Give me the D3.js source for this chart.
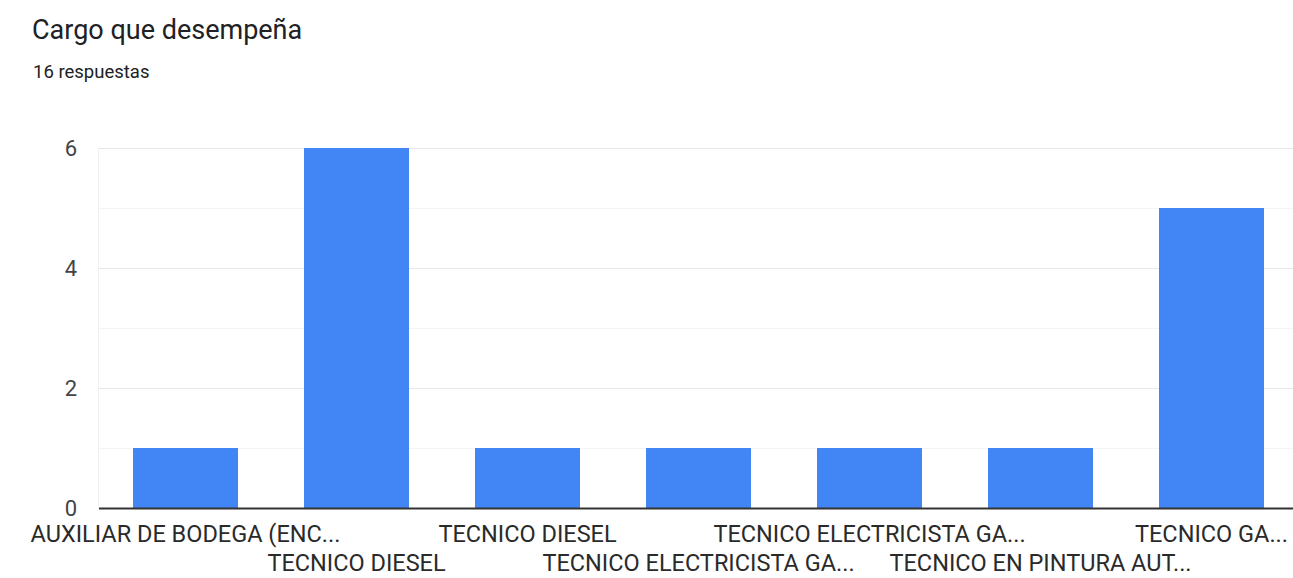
<!DOCTYPE html>
<html>
<head>
<meta charset="utf-8">
<script src="https://cdn.jsdelivr.net/npm/d3@7"></script>
<style>
  html, body { margin: 0; padding: 0; background: #ffffff; }
  svg { display: block; }
</style>
</head>
<body>
<svg id="chart" width="1293" height="578"></svg>
<script>
// Responses per job title (labels as shown on the axis, truncated)
const categories = [
  "AUXILIAR DE BODEGA (ENC...",
  "TECNICO DIESEL",
  "TECNICO DIESEL",
  "TECNICO ELECTRICISTA GA...",
  "TECNICO ELECTRICISTA GA...",
  "TECNICO EN PINTURA AUT...",
  "TECNICO GA..."
];
const counts = [1, 6, 1, 1, 1, 1, 5];
const majorTicks = [0, 2, 4, 6];
const minorTicks = [1, 3, 5];
const title = "Cargo que desempeña";
const subtitle = "16 respuestas";

const svg = d3.select("#chart");
const plot = { left: 100, right: 1297, top: 148, bottom: 508 };
const gridRight = 1293;

const x = d3.scaleBand()
  .domain(d3.range(categories.length))
  .range([plot.left, plot.right])
  .paddingInner(0.386)
  .paddingOuter(0.193);

const y = d3.scaleLinear()
  .domain([0, 6])
  .range([plot.bottom, plot.top]);

// Title block
svg.append("text")
  .attr("x", 32).attr("y", 39)
  .attr("font-family", "Roboto, 'Noto Sans', sans-serif")
  .attr("font-size", 27)
  .attr("fill", "#202124")
  .text(title);
svg.append("text")
  .attr("x", 33).attr("y", 78)
  .attr("font-family", "Roboto, 'Noto Sans', sans-serif")
  .attr("font-size", 18.5)
  .attr("fill", "#202124")
  .text(subtitle);

// Minor gridlines
svg.append("g").selectAll("line").data(minorTicks).join("line")
  .attr("x1", plot.left - 1).attr("x2", gridRight)
  .attr("y1", d => Math.round(y(d)) + 0.5).attr("y2", d => Math.round(y(d)) + 0.5)
  .attr("stroke", "#f4f4f4").attr("stroke-width", 1);

// Major gridlines
svg.append("g").selectAll("line").data(majorTicks.filter(d => d > 0)).join("line")
  .attr("x1", plot.left - 1).attr("x2", gridRight)
  .attr("y1", d => Math.round(y(d)) + 0.5).attr("y2", d => Math.round(y(d)) + 0.5)
  .attr("stroke", "#e8e8e8").attr("stroke-width", 1.2);

// Faint left edge of plot area
svg.append("line")
  .attr("x1", plot.left - 1.5).attr("x2", plot.left - 1.5)
  .attr("y1", y(6)).attr("y2", y(0))
  .attr("stroke", "#f0f0f0").attr("stroke-width", 1);

// Y axis labels
const yAxis = d3.axisLeft(y).tickValues(majorTicks).tickFormat(d3.format("d"))
  .tickSize(0).tickPadding(0);
const gy = svg.append("g").attr("transform", "translate(77,0)").call(yAxis);
gy.select(".domain").remove();
gy.selectAll("text")
  .attr("font-family", "Roboto, 'Noto Sans', sans-serif")
  .attr("font-size", 22)
  .attr("fill", "#444444")
  .attr("dy", "0.36em");

// Bars
svg.append("g").selectAll("rect").data(counts).join("rect")
  .attr("x", (d, i) => x(i))
  .attr("width", x.bandwidth())
  .attr("y", d => y(d))
  .attr("height", d => y(0) - y(d))
  .attr("fill", "#4285f4");

// Baseline
svg.append("line")
  .attr("x1", plot.left - 1).attr("x2", gridRight)
  .attr("y1", y(0) + 0.5).attr("y2", y(0) + 0.5)
  .attr("stroke", "#333333").attr("stroke-width", 1.8);

// X axis labels, staggered on two rows
const xAxis = d3.axisBottom(x).tickSize(0).tickPadding(0).tickFormat(i => categories[i]);
const gx = svg.append("g").attr("transform", `translate(0,${y(0)})`).call(xAxis);
gx.select(".domain").remove();
gx.selectAll("text")
  .attr("font-family", "Roboto, 'Noto Sans', sans-serif")
  .attr("font-size", 23.5)
  .attr("fill", "#2a2a2a")
  .attr("dy", null)
  .attr("y", i => (i % 2 === 0 ? 34 : 62.5));
</script>
</body>
</html>
